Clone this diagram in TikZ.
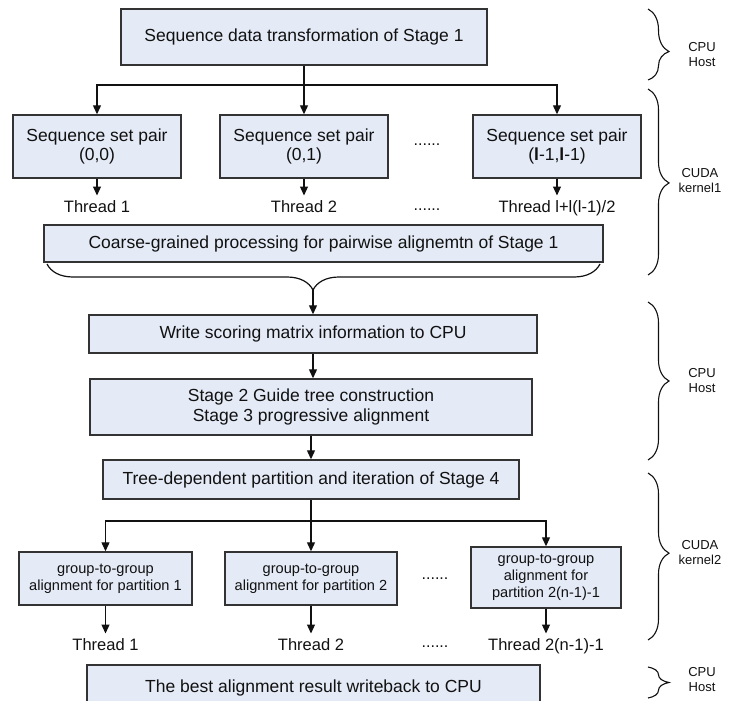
\documentclass[tikz,border=0pt]{standalone}
\usepackage{fontspec}
\setmainfont{Liberation Sans}
\usepackage{xcolor}
\usepackage{tikz}
\usetikzlibrary{arrows.meta,calc,decorations.pathreplacing}
\definecolor{boxfill}{HTML}{E4EAF6}
\definecolor{boxline}{HTML}{333333}
\definecolor{inkgray}{HTML}{111111}

\begin{document}
\begin{tikzpicture}[x=1pt,y=-1pt,
    stagebox/.style={draw=boxline,fill=boxfill,line width=1.4pt,align=center,inner sep=0pt,text=inkgray,font=\fontsize{17.5}{19.5}\selectfont},
    groupbox/.style={stagebox,font=\fontsize{14.6}{17}\selectfont},
    threadlbl/.style={inner sep=0pt,outer sep=5pt,text height=12pt,text depth=3pt,text=inkgray,font=\fontsize{16.5}{18}\selectfont},
    dotslbl/.style={anchor=base,inner sep=0pt,text=inkgray,font=\fontsize{16}{18}\selectfont},
    sidelbl/.style={align=center,inner sep=0pt,text=inkgray,font=\fontsize{13}{15}\selectfont},
    arr/.style={line width=1.2pt,draw=inkgray,-{Triangle[width=8pt,length=9pt]}},
    sidebrace/.style={line width=1.1pt,draw=inkgray,decorate,decoration={brace,amplitude=21pt}}]
  \useasboundingbox (0,0) rectangle (734,701);
  \clip (0,0) rectangle (734,701);
  \node[stagebox,minimum width=366pt,minimum height=56pt] (transform) at (304,37) {Sequence data transformation of Stage 1};
  \node[stagebox,minimum width=168pt,minimum height=63pt] (pairA) at (97,146.5) {Sequence set pair\\(0,0)};
  \node[stagebox,minimum width=168pt,minimum height=63pt] (pairB) at (304,146.5) {Sequence set pair\\(0,1)};
  \node[stagebox,minimum width=168pt,minimum height=63pt] (pairC) at (557,146.5) {Sequence set pair\\(\textbf{l}-1,\textbf{l}-1)};
  \node[dotslbl] (dotsA) at (427,145) {......};
  \node[threadlbl] (threadA) at (97,208) {Thread 1};
  \node[threadlbl] (threadB) at (304,208) {Thread 2};
  \node[threadlbl] (threadC) at (557,208) {Thread l+l(l-1)/2};
  \node[dotslbl] (dotsB) at (427,210) {......};
  \node[stagebox,minimum width=559pt,minimum height=37pt] (coarse) at (323.5,243.5) {Coarse-grained processing for pairwise alignemtn of Stage 1};
  \node[stagebox,minimum width=448pt,minimum height=38pt] (writeinfo) at (313,334) {Write scoring matrix information to CPU};
  \node[stagebox,minimum width=442pt,minimum height=56pt] (guidetree) at (311,407) {Stage 2 Guide tree construction\\Stage 3 progressive alignment};
  \node[stagebox,minimum width=416pt,minimum height=39pt] (partition) at (311,479.5) {Tree-dependent partition and iteration of Stage 4};
  \node[groupbox,minimum width=173pt,minimum height=53pt] (groupA) at (105.5,578.5) {group-to-group\\alignment for partition 1};
  \node[groupbox,minimum width=172pt,minimum height=53pt] (groupB) at (311,578.5) {group-to-group\\alignment for partition 2};
  \node[groupbox,minimum width=150pt,minimum height=61pt] (groupC) at (546,577.5) {group-to-group\\alignment for\\partition 2(n-1)-1};
  \node[dotslbl] (dotsC) at (435,579) {......};
  \node[threadlbl] (gthreadA) at (105.5,646) {Thread 1};
  \node[threadlbl] (gthreadB) at (311,646) {Thread 2};
  \node[threadlbl] (gthreadC) at (546,646) {Thread 2(n-1)-1};
  \node[dotslbl] (dotsD) at (435,647) {......};
  \node[stagebox,minimum width=453pt,minimum height=46pt] (writeback) at (313.5,688) {The best alignment result writeback to CPU};
  \node[sidelbl] (hostA) at (702,54.5) {CPU\\Host};
  \node[sidelbl] (kernelA) at (700,181) {CUDA\\kernel1};
  \node[sidelbl] (hostB) at (702,381) {CPU\\Host};
  \node[sidelbl] (kernelB) at (700,553) {CUDA\\kernel2};
  \node[sidelbl] (hostC) at (702,680) {CPU\\Host};
  \coordinate (splitA) at (transform.south |- 0,85);
  \draw[arr] (transform.south) -- (pairB.north);
  \draw[arr] (splitA) -| (pairA.north);
  \draw[arr] (splitA) -| (pairC.north);
  \foreach \col in {A,B,C} \draw[arr] (pair\col.south) -- (thread\col.north);
  \draw[line width=1.2pt,draw=inkgray,decorate,decoration={brace,amplitude=26pt,aspect=0.519}] (600,264) -- (47,264);
  \coordinate (bracetip) at (313,290);
  \draw[arr] (bracetip) -- (writeinfo.north);
  \draw[arr] (writeinfo.south) -- (writeinfo.south |- guidetree.north);
  \draw[arr] (guidetree.south) -- (partition.north);
  \coordinate (splitB) at (partition.south |- 0,521);
  \draw[line width=1.2pt,draw=inkgray] (partition.south) -- (splitB);
  \draw[arr] (splitB) -| (groupA.north);
  \draw[arr] (splitB) -- (groupB.north);
  \draw[arr] (splitB) -| (groupC.north);
  \foreach \col in {A,B,C} \draw[arr] (group\col.south) -- (gthread\col.north);
  \draw[sidebrace,decoration={aspect=0.6}] (648,9) -- (648,80);
  \draw[sidebrace,decoration={aspect=0.505}] (648,89) -- (648,275);
  \draw[sidebrace,decoration={aspect=0.5}] (648,302) -- (648,460);
  \draw[sidebrace,decoration={aspect=0.48}] (648,473) -- (648,640);
  \draw[sidebrace,decoration={aspect=0.5}] (648,667) -- (648,698);
\end{tikzpicture}
\end{document}
